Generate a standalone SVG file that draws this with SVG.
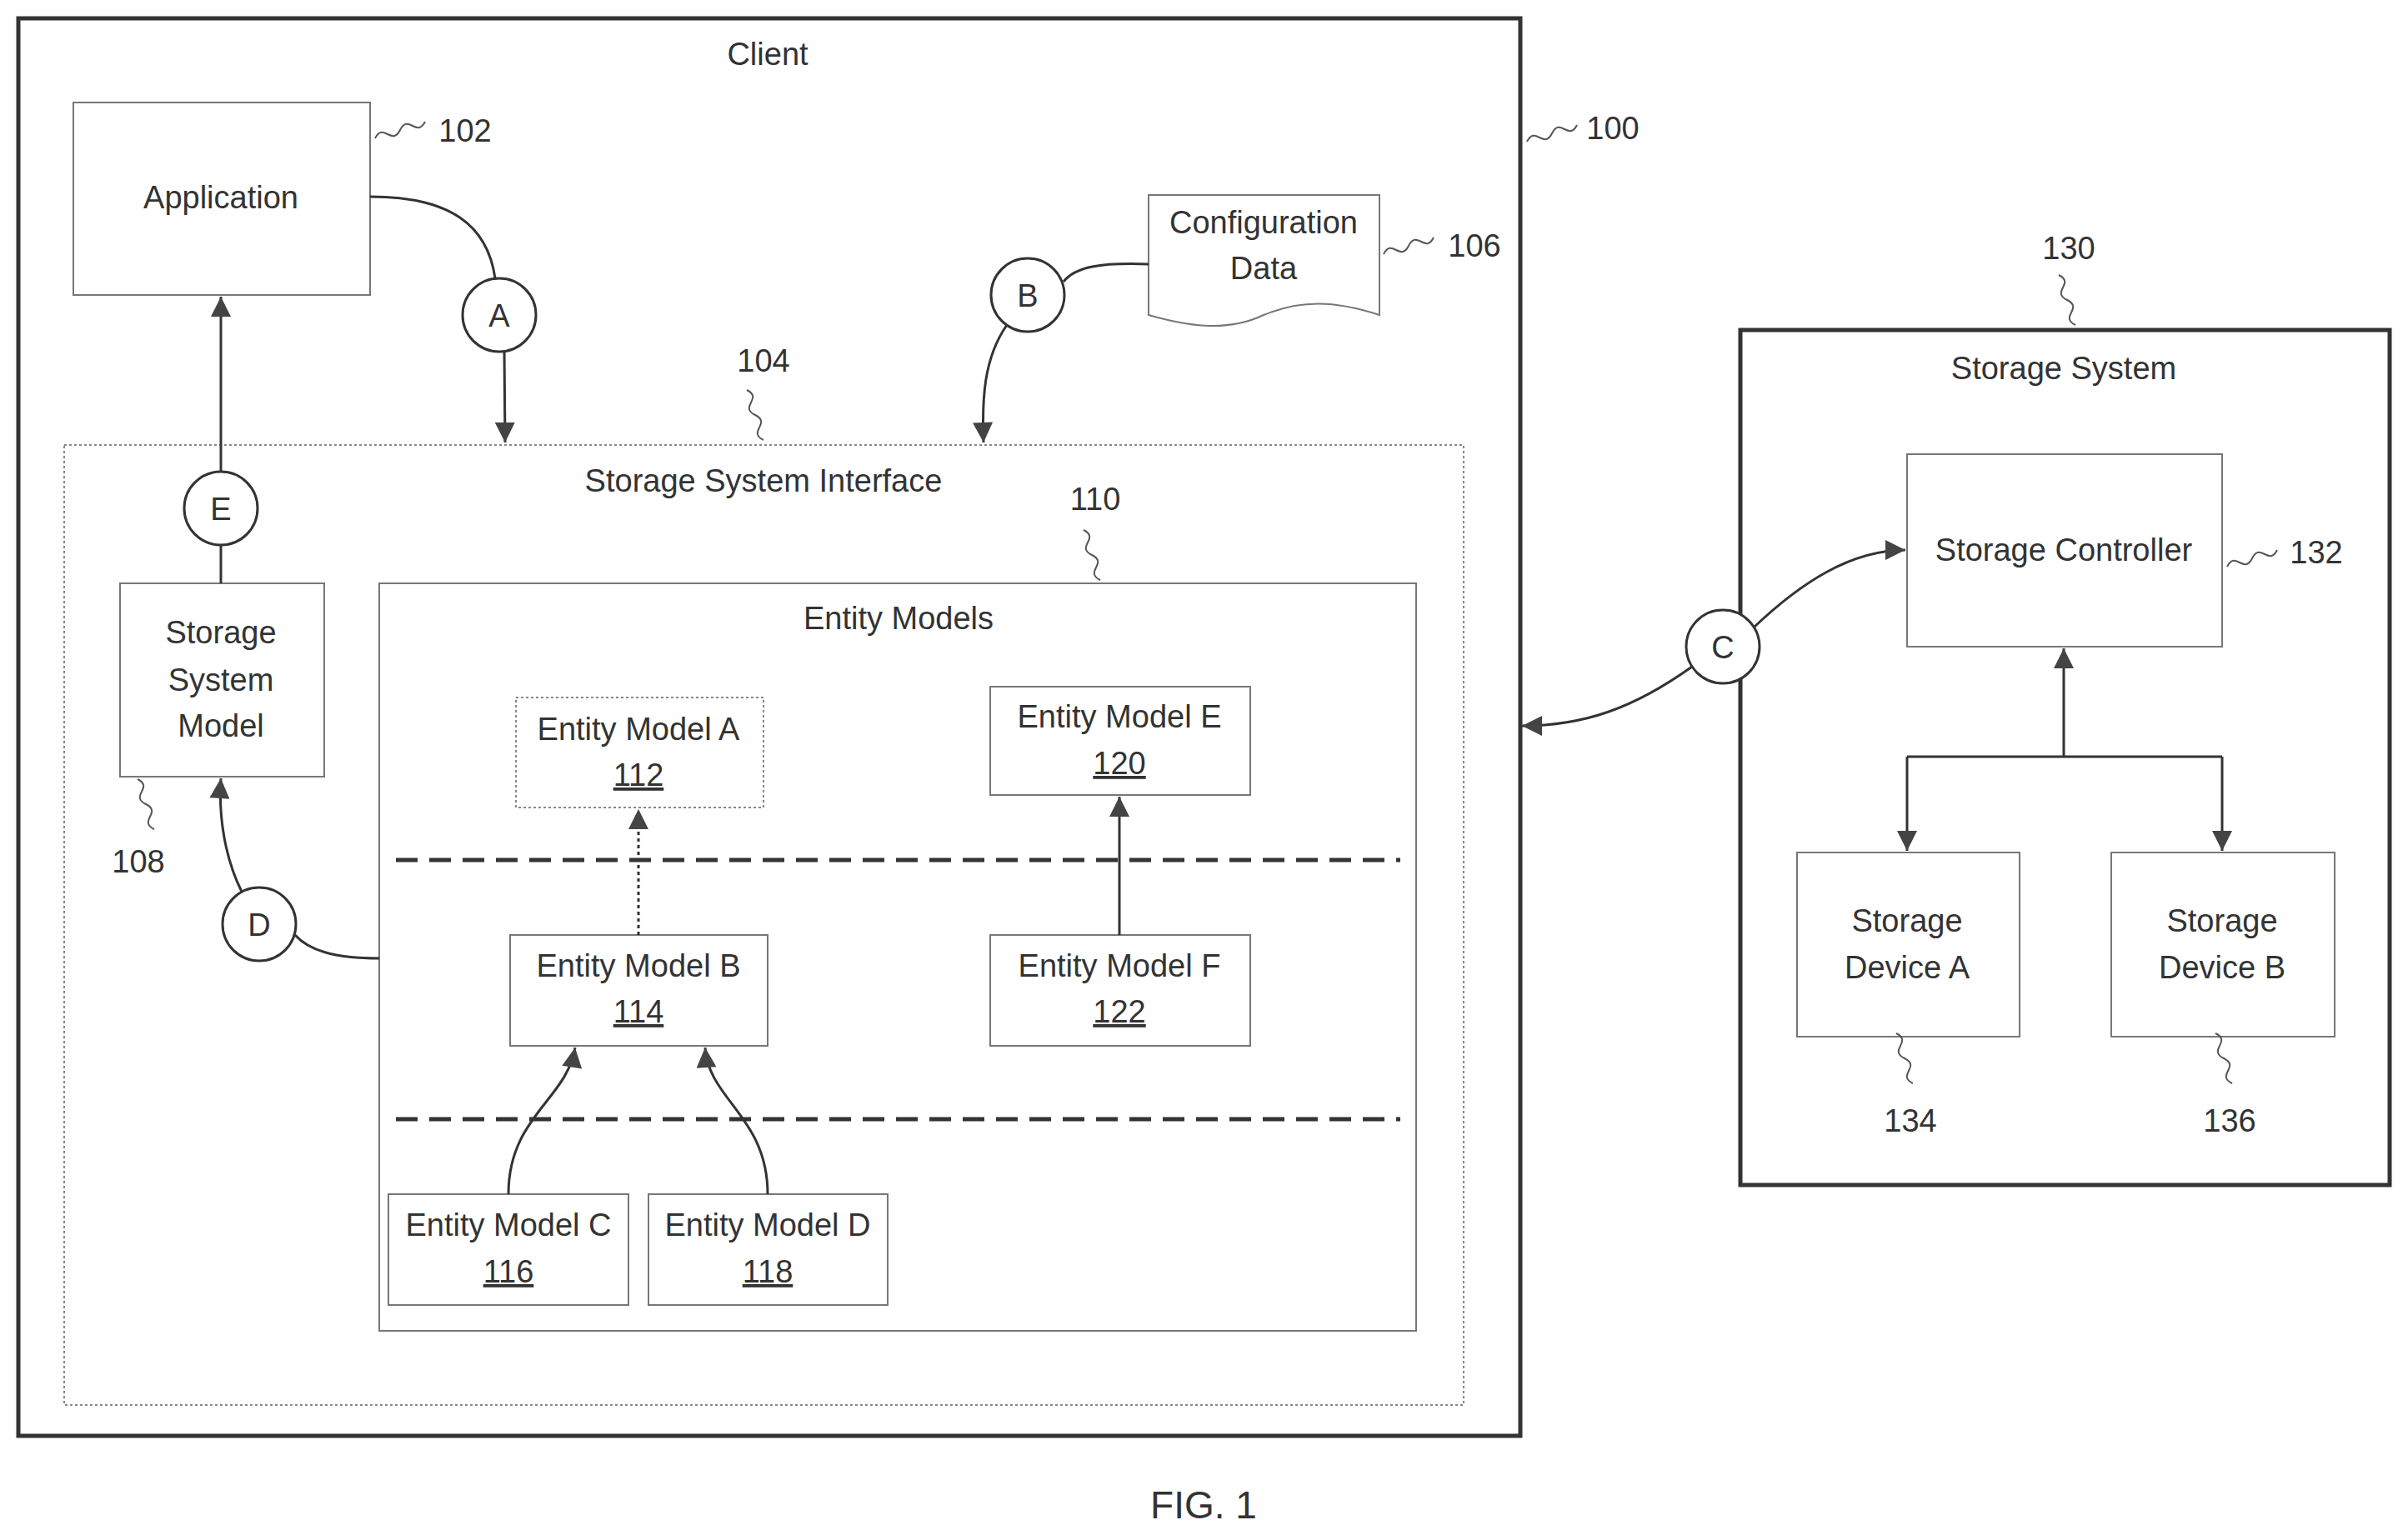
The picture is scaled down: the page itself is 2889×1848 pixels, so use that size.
<svg xmlns="http://www.w3.org/2000/svg" width="2889" height="1848" viewBox="0 0 2889 1848">
<style>
text{font-family:"Liberation Sans",Arial,sans-serif;font-size:38px;fill:#333;text-anchor:middle}
.thick{fill:none;stroke:#333;stroke-width:5}
.box{fill:#fff;stroke:#777;stroke-width:2}
.dot{fill:none;stroke:#888;stroke-width:2;stroke-dasharray:3 3}
.ln{fill:none;stroke:#333;stroke-width:3}
.sq{fill:none;stroke:#555;stroke-width:2}
.cir{fill:#fff;stroke:#333;stroke-width:3}
.dash{stroke:#333;stroke-width:5;stroke-dasharray:26 14}
</style>
<defs>
<marker id="ah" viewBox="0 0 10 10" refX="10" refY="5" markerWidth="30" markerHeight="24" markerUnits="userSpaceOnUse" orient="auto">
<path d="M0,0 L10,5 L0,10 z" fill="#444"/>
</marker>
</defs>
<rect width="2889" height="1848" fill="#fff"/>
<g id="client"><rect class="thick" x="22" y="22" width="1802" height="1701"/><text x="921" y="78">Client</text>
<path class="sq" d="M1832,170 c10,-20 20,10 30,-10 c10,-20 20,10 30,-10"/><text x="1935" y="167">100</text></g>
<g id="application"><rect class="box" x="88" y="123" width="356" height="231"/><text x="265" y="250">Application</text>
<path class="sq" d="M450,166 c10,-20 20,10 30,-10 c10,-20 20,10 30,-10"/><text x="558" y="170">102</text></g>
<g id="config"><path class="box" d="M1378,234 H1655 V378 C1600,360 1560,360 1516,378 C1470,400 1420,390 1378,378 Z"/><text x="1516" y="280">Configuration</text><text x="1516" y="335">Data</text>
<path class="sq" d="M1660,305 c10,-20 20,10 30,-10 c10,-20 20,10 30,-10"/><text x="1769" y="308">106</text></g>
<g id="ssi"><rect class="dot" x="77" y="534" width="1679" height="1152"/><text x="916" y="590">Storage System Interface</text>
<path class="sq" d="M916,528 c-20,-10 10,-20 -10,-30 c-20,-10 10,-20 -10,-30"/><text x="916" y="446">104</text></g>
<g id="ssm"><rect class="box" x="144" y="700" width="245" height="232"/><text x="265" y="772">Storage</text><text x="265" y="829">System</text><text x="265" y="884">Model</text>
<path class="sq" d="M185,995 c-20,-10 10,-20 -10,-30 c-20,-10 10,-20 -10,-30"/><text x="166" y="1047">108</text></g>
<g id="entitymodels"><rect class="box" x="455" y="700" width="1244" height="897"/><text x="1078" y="755">Entity Models</text>
<path class="sq" d="M1320,696 c-20,-10 10,-20 -10,-30 c-20,-10 10,-20 -10,-30"/><text x="1314" y="612">110</text>
<line class="dash" x1="475" y1="1032" x2="1680" y2="1032"/><line class="dash" x1="475" y1="1343" x2="1680" y2="1343"/></g>
<g id="ema"><rect class="dot" x="619" y="837" width="297" height="132"/><text x="766" y="888">Entity Model A</text><text x="766" y="943" text-decoration="underline">112</text></g>
<g id="eme"><rect class="box" x="1188" y="824" width="312" height="130"/><text x="1343" y="873">Entity Model E</text><text x="1343" y="929" text-decoration="underline">120</text></g>
<g id="emb"><rect class="box" x="612" y="1122" width="309" height="133"/><text x="766" y="1172">Entity Model B</text><text x="766" y="1227" text-decoration="underline">114</text></g>
<g id="emf"><rect class="box" x="1188" y="1122" width="312" height="133"/><text x="1343" y="1172">Entity Model F</text><text x="1343" y="1227" text-decoration="underline">122</text></g>
<g id="emc"><rect class="box" x="466" y="1433" width="288" height="133"/><text x="610" y="1483">Entity Model C</text><text x="610" y="1539" text-decoration="underline">116</text></g>
<g id="emd"><rect class="box" x="778" y="1433" width="287" height="133"/><text x="921" y="1483">Entity Model D</text><text x="921" y="1539" text-decoration="underline">118</text></g>
<g id="storagesystem"><rect class="thick" x="2088" y="396" width="779" height="1026"/><text x="2476" y="455">Storage System</text>
<path class="sq" d="M2490,390 c-20,-10 10,-20 -10,-30 c-20,-10 10,-20 -10,-30"/><text x="2482" y="311">130</text></g>
<g id="controller"><rect class="box" x="2288" y="545" width="378" height="231"/><text x="2476" y="673">Storage Controller</text>
<path class="sq" d="M2672,680 c10,-20 20,10 30,-10 c10,-20 20,10 30,-10"/><text x="2779" y="676">132</text></g>
<g id="deva"><rect class="box" x="2156" y="1023" width="267" height="221"/><text x="2288" y="1118">Storage</text><text x="2288" y="1174">Device A</text>
<path class="sq" d="M2295,1300 c-20,-10 10,-20 -10,-30 c-20,-10 10,-20 -10,-30"/><text x="2292" y="1358">134</text></g>
<g id="devb"><rect class="box" x="2533" y="1023" width="268" height="221"/><text x="2666" y="1118">Storage</text><text x="2666" y="1174">Device B</text>
<path class="sq" d="M2678,1300 c-20,-10 10,-20 -10,-30 c-20,-10 10,-20 -10,-30"/><text x="2675" y="1358">136</text></g>
<g id="connectors">
<path class="ln" d="M444,236 C540,236 585,270 594,334"/>
<path class="ln" d="M605,422 L606,531" marker-end="url(#ah)"/>
<path class="ln" d="M1378,317 C1320,315 1290,320 1276,338"/>
<path class="ln" d="M1208,390 C1180,430 1178,480 1180,531" marker-end="url(#ah)"/>
<path class="ln" d="M2030,800 C1960,850 1900,871 1826,871" marker-end="url(#ah)"/>
<path class="ln" d="M2105,752 C2160,700 2220,660 2286,660" marker-end="url(#ah)"/>
<path class="ln" d="M2476,908 V778" marker-end="url(#ah)"/>
<path class="ln" d="M2288,908 H2666"/>
<path class="ln" d="M2288,908 V1021" marker-end="url(#ah)"/>
<path class="ln" d="M2666,908 V1021" marker-end="url(#ah)"/>
<path class="ln" d="M455,1150 C400,1150 370,1140 354,1122"/>
<path class="ln" d="M290,1070 C270,1030 262,980 265,934" marker-end="url(#ah)"/>
<path class="ln" d="M265,700 V654"/>
<path class="ln" d="M265,566 V356" marker-end="url(#ah)"/>
<path style="fill:none;stroke:#333;stroke-width:3;stroke-dasharray:4 4" d="M766,1122 V971" marker-end="url(#ah)"/>
<path class="ln" d="M1343,1122 V956" marker-end="url(#ah)"/>
<path class="ln" d="M610,1433 C610,1340 680,1320 690,1257" marker-end="url(#ah)"/>
<path class="ln" d="M921,1433 C921,1340 850,1320 846,1257" marker-end="url(#ah)"/>
</g>
<g id="circles">
<circle class="cir" cx="599" cy="378" r="44"/><text x="599" y="392">A</text>
<circle class="cir" cx="1233" cy="354" r="44"/><text x="1233" y="368">B</text>
<circle class="cir" cx="2067" cy="776" r="44"/><text x="2067" y="790">C</text>
<circle class="cir" cx="311" cy="1109" r="44"/><text x="311" y="1123">D</text>
<circle class="cir" cx="265" cy="610" r="44"/><text x="265" y="624">E</text>
</g>
<text x="1444" y="1822" style="font-size:46px">FIG. 1</text>
</svg>
